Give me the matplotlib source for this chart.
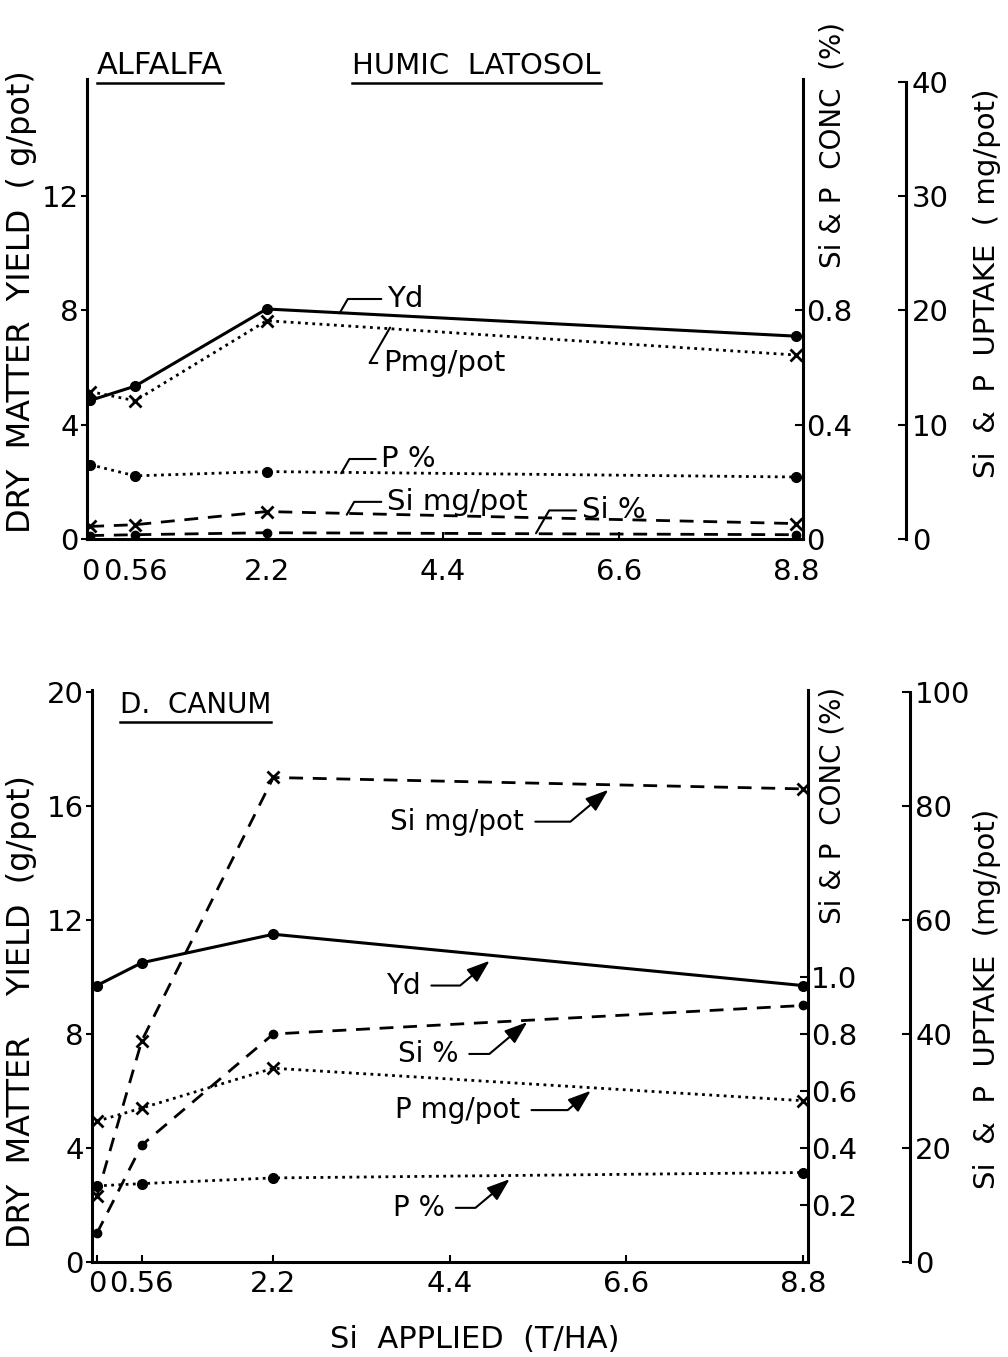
import matplotlib
matplotlib.use("Agg")
import matplotlib.pyplot as plt
from matplotlib.lines import Line2D

plt.rcParams['font.family'] = ['DejaVu Sans']

W, H = 1008, 1357

si_applied = [0, 0.56, 2.2, 8.8]
x_ticks = [0, 0.56, 2.2, 4.4, 6.6, 8.8]
x_labels = ['0', '0.56', '2.2', '4.4', '6.6', '8.8']

# alfalfa, humic latosol
alf_yd = [4.85, 5.35, 8.05, 7.1]        # g/pot
alf_p_pct = [0.26, 0.221, 0.236, 0.217]  # %
alf_si_pct = [0.012, 0.015, 0.022, 0.015]
alf_p_mg = [12.9, 12.1, 19.1, 16.1]      # mg/pot
alf_si_mg = [1.1, 1.25, 2.4, 1.35]

# D. canum
dc_yd = [9.7, 10.5, 11.5, 9.7]
dc_p_pct = [0.267, 0.275, 0.295, 0.314]
dc_si_pct = [0.10, 0.41, 0.80, 0.90]
dc_p_mg = [24.7, 27.0, 34.0, 28.3]
dc_si_mg = [11.5, 38.8, 85.0, 83.0]

DOT = (0, (1, 1.6))
DASH = (0, (5, 3.5))


def px_box(left, right, bottom, top):
    return [left / W, 1 - bottom / H, (right - left) / W, (bottom - top) / H]


def draw_panel(box, xlim, ylim, conc_ticks, conc_labels, upt_ticks, upt_factor, spine_pos,
               yd, p_pct, si_pct, p_mg, si_mg, left_ticks, xpad):
    ax = fig.add_axes(box)
    axc = ax.twinx()
    axu = ax.twinx()

    ax.plot(si_applied, yd, color='k', lw=2.2, marker='o', ms=7, zorder=5)
    axc.plot(si_applied, p_pct, color='k', lw=2, ls=DOT, marker='o', ms=7)
    axc.plot(si_applied, si_pct, color='k', lw=2, ls=DASH, marker='o', ms=6)
    axu.plot(si_applied, p_mg, color='k', lw=2, ls=DOT, marker='x', ms=9, mew=2)
    axu.plot(si_applied, si_mg, color='k', lw=2, ls=DASH, marker='x', ms=9, mew=2)

    ax.set_xlim(*xlim)
    ax.set_ylim(0, ylim)
    axc.set_ylim(0, ylim / 10)
    axu.set_ylim(0, ylim * upt_factor)

    for a in (ax, axc, axu):
        a.spines['top'].set_visible(False)
        for s in a.spines.values():
            s.set_linewidth(2.2)
    ax.spines['right'].set_visible(False)
    for a in (axc, axu):
        a.spines['left'].set_visible(False)
        a.spines['bottom'].set_visible(False)
    axu.spines['right'].set_position(('axes', spine_pos))
    axu.spines['right'].set_bounds(0, upt_ticks[-1])

    ax.set_xticks(x_ticks)
    ax.set_xticklabels(x_labels)
    ax.set_yticks(left_ticks)
    ax.set_yticklabels([str(v) for v in left_ticks])
    ax.tick_params(axis='x', direction='in', length=5, width=1.5, labelsize=21, pad=xpad)
    ax.tick_params(axis='y', direction='out', length=4, width=1.5, labelsize=21, pad=2)

    axc.set_yticks(conc_ticks)
    axc.set_yticklabels(conc_labels)
    axc.tick_params(axis='y', direction='in', length=6, width=1.5, labelsize=21, pad=2)

    axu.set_yticks(upt_ticks)
    axu.set_yticklabels([str(v) for v in upt_ticks])
    axu.tick_params(axis='y', direction='in', length=6, width=1.5, labelsize=21, pad=4)
    return ax


def leader(ax, text, xytext, xy, arrow):
    if arrow:
        props = dict(arrowstyle='-|>,head_length=0.7,head_width=0.25', color='k', lw=1.5,
                     connectionstyle='angle,angleA=0,angleB=40,rad=0',
                     relpos=(1, 0.5), shrinkA=6, shrinkB=1)
        size = 20
    else:
        props = dict(arrowstyle='-', color='k', lw=1.5,
                     connectionstyle='angle,angleA=0,angleB=60,rad=0',
                     relpos=(0, 0.5), shrinkA=2, shrinkB=0)
        size = 21
    ax.annotate(text, xy=xy, xytext=xytext, fontsize=size, ha='left', va='center',
                arrowprops=props)


fig = plt.figure(figsize=(W / 100, H / 100), dpi=100)

# top panel
ax1 = draw_panel(px_box(87, 803, 539, 79), (-0.04, 8.89), 16.1,
                 [0, 0.4, 0.8], ['0', '0.4', '0.8'],
                 [0, 10, 20, 30, 40], 2.5, 1.144,
                 alf_yd, alf_p_pct, alf_si_pct, alf_p_mg, alf_si_mg, [0, 4, 8, 12], 14)
leader(ax1, 'Yd', (3.7, 8.4), (3.11, 7.9), False)
leader(ax1, 'Pmg/pot', (3.65, 6.16), (3.74, 7.4), False)
leader(ax1, 'P %', (3.63, 2.8), (3.13, 2.3), False)
leader(ax1, 'Si mg/pot', (3.7, 1.3), (3.2, 0.85), False)
leader(ax1, 'Si %', (6.13, 1.0), (5.56, 0.2), False)

# bottom panel
ax2 = draw_panel(px_box(92, 808, 1262, 690), (-0.06, 8.865), 20.07,
                 [0.2, 0.4, 0.6, 0.8, 1.0], ['0.2', '0.4', '0.6', '0.8', '1.0'],
                 [0, 20, 40, 60, 80, 100], 5, 1.142,
                 dc_yd, dc_p_pct, dc_si_pct, dc_p_mg, dc_si_mg, [0, 4, 8, 12, 16, 20], 6)
leader(ax2, 'Si mg/pot', (3.66, 15.45), (6.39, 16.6), True)
leader(ax2, 'Yd', (3.6, 9.7), (4.91, 10.6), True)
leader(ax2, 'Si %', (3.75, 7.3), (5.38, 8.45), True)
leader(ax2, 'P mg/pot', (3.72, 5.33), (6.17, 6.04), True)
leader(ax2, 'P %', (3.69, 1.9), (5.16, 2.94), True)


def ftext(x, y, s, **kw):
    return fig.text(x / W, 1 - y / H, s, **kw)


ftext(22, 302, 'DRY  MATTER  YIELD  ( g/pot)', rotation=90, fontsize=23, ha='center', va='center')
ftext(22, 1012, 'DRY  MATTER    YIELD  (g/pot)', rotation=90, fontsize=23, ha='center', va='center')
ftext(832, 145, 'Si & P  CONC  (%)', rotation=90, fontsize=20, ha='center', va='center')
ftext(832, 805, 'Si & P  CONC (%)', rotation=90, fontsize=20, ha='center', va='center')
ftext(987, 283, 'Si  &  P  UPTAKE  ( mg/pot)', rotation=90, fontsize=21, ha='center', va='center')
ftext(987, 999, 'Si  &  P  UPTAKE  (mg/pot)', rotation=90, fontsize=21, ha='center', va='center')
ftext(475, 1340, 'Si  APPLIED  (T/HA)', fontsize=22, ha='center', va='center')

titles = [ftext(97, 66, 'ALFALFA', fontsize=22, ha='left', va='center'),
          ftext(352, 66, 'HUMIC  LATOSOL', fontsize=21, ha='left', va='center'),
          ftext(120, 705, 'D.  CANUM', fontsize=20, ha='left', va='center')]

fig.canvas.draw()
inv = fig.transFigure.inverted()
for t in titles:
    bb = t.get_window_extent().transformed(inv)
    fig.add_artist(Line2D([bb.x0, bb.x1], [bb.y0 - 0.002, bb.y0 - 0.002],
                          color='k', lw=1.8, transform=fig.transFigure))

fig.savefig('out.png', dpi=100)
